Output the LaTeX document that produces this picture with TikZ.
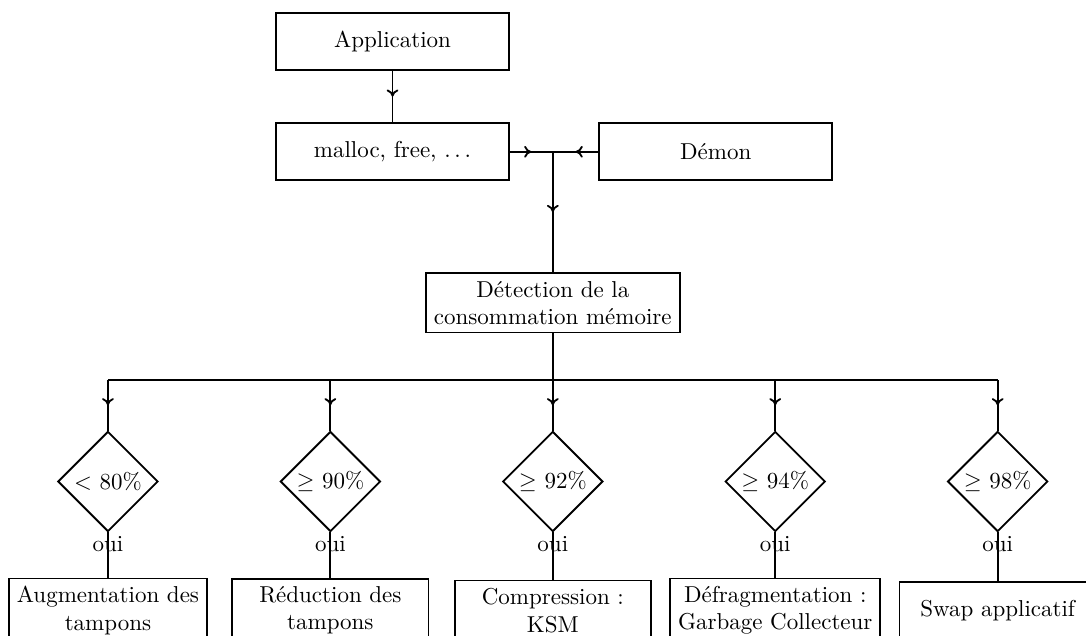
\documentclass[tikz,border=0pt]{standalone}
\usetikzlibrary{shapes.geometric,decorations.markings,arrows.meta}

\tikzset{
  boite/.style={draw,thick,minimum width=3.56cm,minimum height=0.87cm,align=center},
  action/.style={draw,thick,minimum width=3cm,minimum height=0.86cm,align=center},
  test/.style={draw,thick,diamond,aspect=1,minimum size=1.53cm,inner sep=1pt},
  midarrow/.style={thick,postaction={decorate},
    decoration={markings,mark=at position 0.5 with {\arrow{To[length=1.1mm,width=1.8mm]}}}}
}

\begin{document}
\begin{tikzpicture}

\useasboundingbox (0,0) rectangle (16.6,-9.71);

\node[boite] (app) at (6.00,-0.635) {Application};
\node[boite] (malloc) at (6.00,-2.32) {malloc, free, $\ldots$};
\node[boite] (demon) at (10.94,-2.32) {Démon};
\coordinate (jn) at (8.45,-2.32);

\draw[midarrow] (app) -- (malloc);
\draw[midarrow] (malloc) -- (jn);
\draw[midarrow] (demon) -- (jn);

\node[boite,minimum width=3.88cm] (detect) at (8.45,-4.63) {Détection de la\\consommation mémoire};
\draw[midarrow] (jn) -- (detect);

% les tests
\foreach \i/\x/\seuil in {1/1.65/{$<$ 80\%},2/5.05/{$\geq$ 90\%},3/8.45/{$\geq$ 92\%},4/11.85/{$\geq$ 94\%},5/15.25/{$\geq$ 98\%}} {
  \coordinate (bus\i) at (\x,-5.81);
  \node[test] (d\i) at (\x,-7.36) {\seuil};
  \node[below,inner sep=1.5pt] (oui\i) at (d\i.south) {oui};
}

% les actions
\node[action] (b1) at (1.65,-9.33) {Augmentation des\\tampons};
\node[action] (b2) at (5.05,-9.33) {Réduction des\\tampons};
\node[action] (b3) at (8.45,-9.33) {Compression :\\KSM};
\node[action] (b4) at (11.85,-9.33) {Défragmentation :\\Garbage Collecteur};
\node[action] (b5) at (15.25,-9.33) {Swap applicatif};

\draw[thick] (bus1) -- (bus5);
\draw[thick] (detect) -- (bus3);
\foreach \i in {1,...,5} {
  \draw[midarrow] (bus\i) -- (d\i);
  \draw[thick] (d\i.south) -- (b\i);
}

\end{tikzpicture}
\end{document}
